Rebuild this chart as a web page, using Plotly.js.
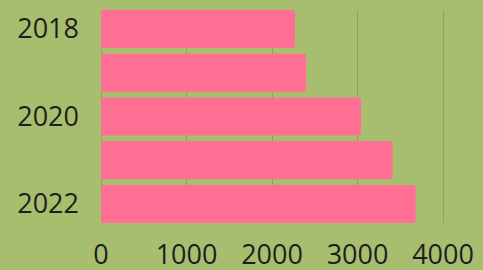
<!DOCTYPE html>
<html>
<head>
<meta charset="utf-8">
<script src="https://cdn.plot.ly/plotly-3.0.1.min.js"></script>
<style>html,body{margin:0;padding:0;background:#a8be6f;}#chart{width:483px;height:270px;}</style>
</head>
<body>
<div id="chart"></div>
<script>
const years = ['2018', '2019', '2020', '2021', '2022'];
const values = [2270, 2400, 3040, 3410, 3680];
const yTickLabels = ['2018', '2020', '2022'];
const xTickVals = [0, 1000, 2000, 3000, 4000];

const trace = {
  type: 'bar',
  orientation: 'h',
  x: values,
  y: years,
  marker: { color: '#ff6f94', cornerradius: 3, line: { width: 0 } },
  hoverinfo: 'none'
};

const layout = {
  width: 483,
  height: 270,
  margin: { l: 101, r: 37, t: 10, b: 47 },
  paper_bgcolor: '#a8be6f',
  plot_bgcolor: '#a8be6f',
  bargap: 0.13,
  showlegend: false,
  font: { family: '"Open Sans", sans-serif', size: 27, color: '#1e1e1e' },
  xaxis: {
    range: [0, 4035],
    autorange: false,
    tickvals: xTickVals,
    ticktext: xTickVals.map(String),
    showgrid: true,
    gridcolor: '#8fa35c',
    gridwidth: 1,
    zeroline: true,
    zerolinecolor: '#8fa35c',
    zerolinewidth: 1,
    showline: false,
    ticks: '',
    ticklabelstandoff: 13,
    fixedrange: true
  },
  yaxis: {
    type: 'category',
    categoryorder: 'array',
    categoryarray: years,
    range: [4.435, -0.435],
    autorange: false,
    tickvals: yTickLabels,
    ticktext: yTickLabels,
    showgrid: false,
    zeroline: false,
    showline: false,
    ticks: '',
    ticklabelstandoff: 21,
    fixedrange: true
  }
};

Plotly.newPlot('chart', [trace], layout, { displayModeBar: false, staticPlot: true });
</script>
</body>
</html>
